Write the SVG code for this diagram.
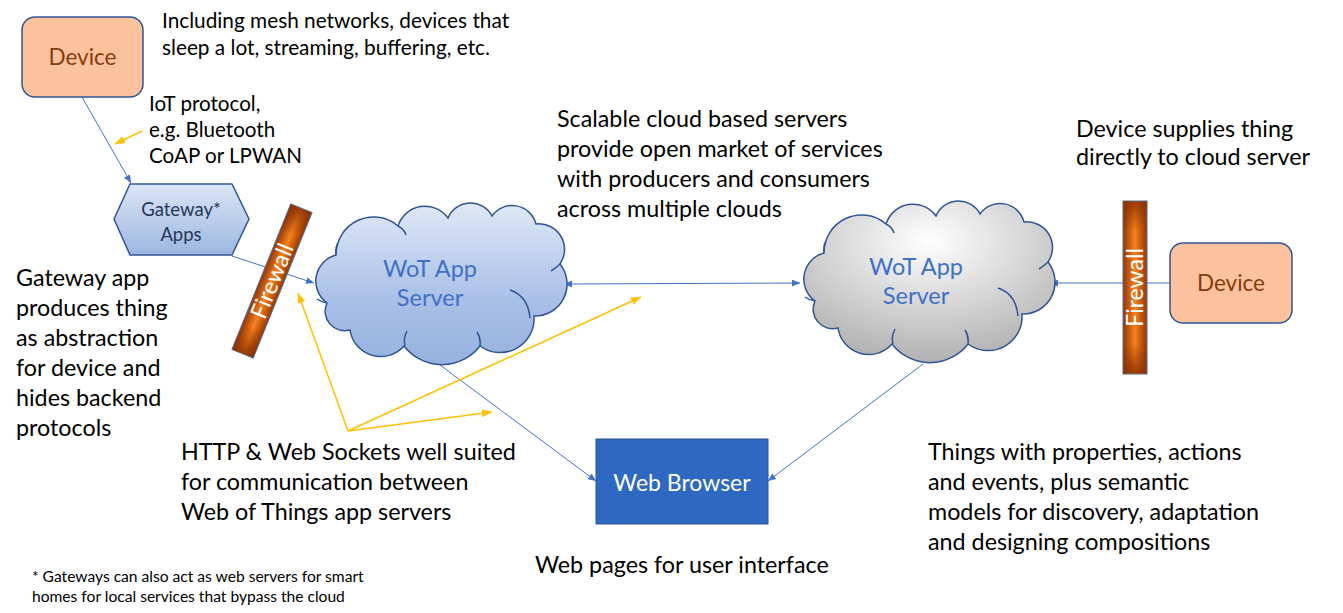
<svg xmlns="http://www.w3.org/2000/svg" xmlns:xlink="http://www.w3.org/1999/xlink" width="1343" height="613" viewBox="0 0 1343 613">
<style>
text{font-family:Lato,"Open Sans","Liberation Sans",sans-serif;}
.t{font-size:23.3px;fill:#000;}
.ts{font-size:20.8px;fill:#000;}
.ti{font-size:20.6px;fill:#000;}
.tf{font-size:15.6px;fill:#000;}
.dev{fill:#FCC19D;stroke:#2F5597;stroke-width:1.5;}
.devt{font-size:22.5px;fill:#843C0C;text-anchor:middle;}
.wot{font-size:23.5px;fill:#3F70C8;text-anchor:middle;}
.fw{stroke:#4A6FA5;stroke-width:1;}
.fwt{font-size:23px;fill:#fff;text-anchor:middle;}
.gw{font-size:18.5px;fill:#26375A;text-anchor:middle;}
.c{stroke:#4472C4;stroke-width:1;fill:none;}
.y{stroke:#FFC000;stroke-width:1.5;fill:none;}
</style>
<defs>
<linearGradient id="gBlue" x1="0" y1="0" x2="0" y2="1">
<stop offset="0" stop-color="#E0E8F6"/><stop offset="0.6" stop-color="#A9C0E7"/><stop offset="1" stop-color="#97B2DF"/>
</linearGradient>
<radialGradient id="gGray" cx="0.5" cy="0.25" r="0.85">
<stop offset="0" stop-color="#FFFFFF"/><stop offset="1" stop-color="#A6A6A6"/>
</radialGradient>
<linearGradient id="gHex" x1="0" y1="0" x2="0" y2="1">
<stop offset="0" stop-color="#DCE5F5"/><stop offset="1" stop-color="#9BB7E0"/>
</linearGradient>
<linearGradient id="gFw" x1="0" y1="0" x2="1" y2="0">
<stop offset="0" stop-color="#963500"/><stop offset="0.5" stop-color="#F7821F"/><stop offset="1" stop-color="#963500"/>
</linearGradient>
<linearGradient id="gFwV" x1="0" y1="0" x2="0" y2="1">
<stop offset="0" stop-color="#8A3000" stop-opacity="0.85"/><stop offset="0.18" stop-color="#8A3000" stop-opacity="0"/><stop offset="0.82" stop-color="#8A3000" stop-opacity="0"/><stop offset="1" stop-color="#8A3000" stop-opacity="0.85"/>
</linearGradient>
<marker id="ab" viewBox="0 0 8 7" refX="8" refY="3.5" markerWidth="8" markerHeight="7" markerUnits="userSpaceOnUse" orient="auto-start-reverse">
<path d="M0,0 L8,3.5 L0,7 z" fill="#4472C4"/>
</marker>
<marker id="ay" viewBox="0 0 10 8" refX="10" refY="4" markerWidth="10" markerHeight="8" markerUnits="userSpaceOnUse" orient="auto">
<path d="M0,0 L10,4 L0,8 z" fill="#FFC000"/>
</marker>
<g id="cloudShape">
<path d="M327,303 A27,27 0 0 1 336,255 A37.6,37.6 0 0 1 398,226 A28.3,28.3 0 0 1 448,218 A24.3,24.3 0 0 1 492,216 A24.6,24.6 0 0 1 536,224 A25.6,25.6 0 0 1 560,264 A32,32 0 0 1 534,316 A34,34 0 0 1 480,346 A48,48 0 0 1 404,346 A31,31 0 0 1 350,330 A19.5,19.5 0 0 1 327,303 Z"/>
<path fill="none" d="M510,290 Q528,296 530,318 M405,346 Q403,338 407,331 M480,346 Q481,338 477,332 M336,255 Q335,248 338,243 M398,226 Q404,229 406,235 M327,303 Q321,302 317,299 M560,264 Q556,268 551,271"/>
</g>
</defs>
<rect width="1343" height="613" fill="#fff"/>

<g id="connectors">
<line class="c" x1="82" y1="97" x2="131" y2="183" marker-end="url(#ab)"/>
<line class="c" x1="232" y1="256" x2="314" y2="283" marker-end="url(#ab)"/>
<line class="c" x1="564" y1="284" x2="800" y2="283" marker-start="url(#ab)" marker-end="url(#ab)"/>
<line class="c" x1="1170" y1="283" x2="1050" y2="283" marker-end="url(#ab)"/>
<line class="c" x1="440" y1="365" x2="596" y2="481" marker-end="url(#ab)"/>
<line class="c" x1="923" y1="364" x2="768" y2="481" marker-end="url(#ab)"/>
<line class="y" x1="142" y1="131" x2="115" y2="144" marker-end="url(#ay)"/>
<line class="y" x1="348" y1="431" x2="298" y2="293" marker-end="url(#ay)"/>
<line class="y" x1="348" y1="431" x2="492" y2="412" marker-end="url(#ay)"/>
<line class="y" x1="348" y1="431" x2="641" y2="297" marker-end="url(#ay)"/>
</g>

<g id="device-left">
<rect class="dev" x="22" y="17" width="121" height="80" rx="13"/>
<text class="devt" x="82.5" y="65">Device</text>
</g>

<g id="gateway">
<polygon points="114,219 130,184 232,184 249,219 232,255 130,255" fill="url(#gHex)" stroke="#2F5597" stroke-width="1.5"/>
<text class="gw" x="181" y="216">Gateway*</text>
<text class="gw" x="181" y="241">Apps</text>
</g>

<g id="firewall-left" transform="translate(272,281) rotate(22)">
<rect class="fw" x="-11.5" y="-78.5" width="23" height="157" fill="url(#gFw)"/>
<rect x="-11" y="-78" width="22" height="156" fill="url(#gFwV)"/>
<text class="fwt" transform="rotate(-90)" x="0" y="8">Firewall</text>
</g>

<g id="cloud-left">
<use xlink:href="#cloudShape" fill="url(#gBlue)" stroke="#2F5597" stroke-width="1.5"/>
<text class="wot" x="430" y="277">WoT App</text>
<text class="wot" x="430" y="306">Server</text>
</g>

<g id="cloud-right">
<use xlink:href="#cloudShape" transform="translate(488,-2)" fill="url(#gGray)" stroke="#2F5597" stroke-width="1.5"/>
<text class="wot" x="916" y="275">WoT App</text>
<text class="wot" x="916" y="304">Server</text>
</g>

<g id="firewall-right">
<rect class="fw" x="1123" y="201" width="24" height="173" fill="url(#gFw)"/>
<rect x="1123.5" y="201.5" width="23" height="172" fill="url(#gFwV)"/>
<text class="fwt" transform="translate(1135,287.5) rotate(-90)" x="0" y="8">Firewall</text>
</g>

<g id="device-right">
<rect class="dev" x="1170" y="243" width="122" height="80" rx="13"/>
<text class="devt" x="1231" y="291">Device</text>
</g>

<g id="web-browser">
<rect x="596" y="439" width="172" height="85" fill="#2E68C0" stroke="#2F528F" stroke-width="1"/>
<text x="682" y="491" style="font-size:23px;fill:#fff;text-anchor:middle">Web Browser</text>
</g>

<g id="labels">
<text class="ts" x="162" y="28">Including mesh networks, devices that</text>
<text class="ts" x="162" y="55">sleep a lot, streaming, buffering, etc.</text>
<text class="ti" x="149" y="111">IoT protocol,</text>
<text class="ti" x="149" y="137">e.g. Bluetooth</text>
<text class="ti" x="149" y="163">CoAP or LPWAN</text>
<text class="t" x="557" y="127">Scalable cloud based servers</text>
<text class="t" x="557" y="157">provide open market of services</text>
<text class="t" x="557" y="187">with producers and consumers</text>
<text class="t" x="557" y="217">across multiple clouds</text>
<text class="t" x="1076" y="137">Device supplies thing</text>
<text class="t" x="1076" y="165">directly to cloud server</text>
<text class="t" x="16" y="286">Gateway app</text>
<text class="t" x="16" y="316">produces thing</text>
<text class="t" x="16" y="346">as abstraction</text>
<text class="t" x="16" y="376">for device and</text>
<text class="t" x="16" y="406">hides backend</text>
<text class="t" x="16" y="436">protocols</text>
<text class="t" x="181" y="460">HTTP &amp; Web Sockets well suited</text>
<text class="t" x="181" y="490">for communication between</text>
<text class="t" x="181" y="520">Web of Things app servers</text>
<text class="t" x="535" y="573">Web pages for user interface</text>
<text class="t" x="928" y="460">Things with properties, actions</text>
<text class="t" x="928" y="490">and events, plus semantic</text>
<text class="t" x="928" y="520">models for discovery, adaptation</text>
<text class="t" x="928" y="550">and designing compositions</text>
<text class="tf" x="32" y="582">* Gateways can also act as web servers for smart</text>
<text class="tf" x="32" y="602">homes for local services that bypass the cloud</text>
</g>
</svg>
